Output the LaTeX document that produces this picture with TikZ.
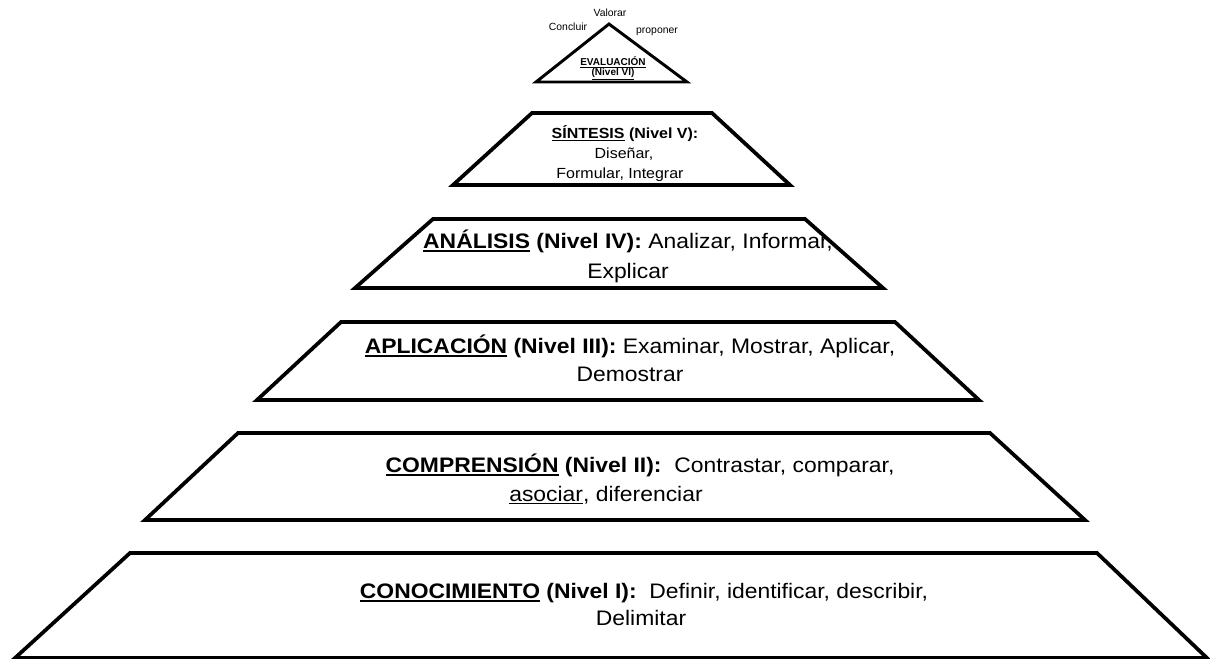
\documentclass[tikz,border=0pt]{standalone}
\usepackage{fontspec}
\setmainfont{Liberation Sans}
\newfontfamily\widefont[FakeStretch=1.09]{Liberation Sans}
\newcommand\undl[2][1.4pt]{\leavevmode\vtop{\hbox{#2}\kern1.2pt\hrule height #1}}
\begin{document}
\begin{tikzpicture}[x=0.75pt,y=-0.75pt,
  level/.style={draw=black, line width=2.8pt, line join=miter, fill=white},
  apex/.style={draw=black, line width=2.2pt, line join=miter, fill=white},
  bigtxt/.style={font=\widefont\fontsize{15.75}{20}\selectfont, inner sep=0pt, anchor=base},
  midtxt/.style={font=\widefont\fontsize{11}{14}\selectfont, inner sep=0pt, anchor=base},
  smalltxt/.style={font=\fontsize{7.5}{9}\selectfont, inner sep=0pt, anchor=base},
  tinytxt/.style={font=\fontsize{7.8}{9}\selectfont, inner sep=0pt, anchor=base}]
\useasboundingbox (0,0) rectangle (1210,658);
% shapes
\draw[apex] (536,82) -- (609,24) -- (687,82) -- cycle;
\draw[level] (453,185) -- (532,113) -- (712,113) -- (790,185) -- cycle;
\draw[level] (355,288) -- (433,219) -- (805,219) -- (883,288) -- cycle;
\draw[level] (257,400) -- (341,322) -- (895,322) -- (979,400) -- cycle;
\draw[level] (145,520) -- (238,433) -- (990,433) -- (1085,520) -- cycle;
\draw[level] (15,658) -- (130,553) -- (1097,553) -- (1207,658) -- cycle;
% level VI
\node[tinytxt] (valorar) at (610,16.5) {Valorar};
\node[tinytxt] (concluir) at (568,30) {Concluir};
\node[tinytxt] (proponer) at (657,33) {proponer};
\node[smalltxt] (eval1) at (613,65) {\textbf{\undl[0.8pt]{EVALUACIÓN}}};
\node[smalltxt] (eval2) at (613,75) {\textbf{\undl[0.8pt]{(Nivel VI)}}};
% level V
\node[midtxt] (sin1) at (625,138) {\textbf{\undl[1.1pt]{SÍNTESIS} (Nivel V):}};
\node[midtxt] (sin2) at (624,158) {Diseñar,};
\node[midtxt] (sin3) at (620,178) {Formular, Integrar};
% level IV
\node[bigtxt] (ana1) at (628,248) {\textbf{\undl{ANÁLISIS} (Nivel IV):} Analizar, Informar,};
\node[bigtxt] (ana2) at (628,278) {Explicar};
% level III
\node[bigtxt] (apl1) at (630,353) {\textbf{\undl{APLICACIÓN} (Nivel III):} Examinar, Mostrar, Aplicar,};
\node[bigtxt] (apl2) at (630,381) {Demostrar};
% level II
\node[bigtxt] (com1) at (640,472) {\textbf{\undl{COMPRENSIÓN} (Nivel II):}\ \ Contrastar, comparar,};
\node[bigtxt] (com2) at (606,501) {\undl[1pt]{asociar}, diferenciar};
% level I
\node[bigtxt] (con1) at (644,598) {\textbf{\undl{CONOCIMIENTO} (Nivel I):}\ \ Definir, identificar, describir,};
\node[bigtxt] (con2) at (641,625) {Delimitar};
\end{tikzpicture}
\end{document}
